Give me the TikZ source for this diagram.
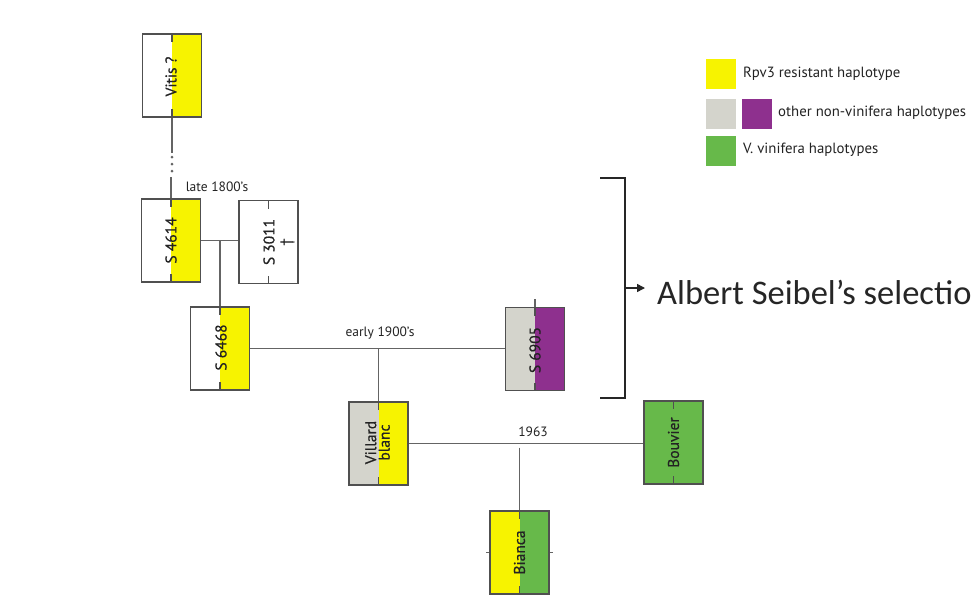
\documentclass[tikz,border=0pt]{standalone}
\usepackage{fontspec}
\setmainfont{PT Sans}
\newfontfamily\labfont[FakeBold=0.6]{PT Sans}
\newfontfamily\calib{Carlito}
\usetikzlibrary{arrows.meta,calc}
\definecolor{ryel}{RGB}{247,243,0}
\definecolor{rgray}{RGB}{212,212,204}
\definecolor{rpurp}{RGB}{142,48,142}
\definecolor{rgreen}{RGB}{103,185,74}
\definecolor{linec}{RGB}{100,100,100}
\definecolor{boxc}{RGB}{80,80,80}
\definecolor{txtc}{RGB}{35,35,35}
\begin{document}
\begin{tikzpicture}[x=1pt,y=-1pt,
  lc/.style={draw=linec, line width=1.2pt},
  gbox/.style 2 args={draw=boxc, line width=1.2pt, minimum width=59pt, minimum height=83pt, inner sep=0pt,
    path picture={
      \fill[#1] (path picture bounding box.south west) rectangle (path picture bounding box.north);
      \fill[#2] (path picture bounding box.south) rectangle (path picture bounding box.north east);
      \draw[boxc, line width=1.2pt] (path picture bounding box.north) -- ++(0,-8pt);
      \draw[boxc, line width=1.2pt] (path picture bounding box.south) -- ++(0,8pt);
    }},
  lab/.style={rotate=90, font=\labfont\fontsize{15.5}{13.5}\selectfont, text=txtc, align=center, inner sep=0pt},
  yearlab/.style={font=\fontsize{13.5}{15}\selectfont, text=txtc, inner sep=0pt},
  legsq/.style={minimum width=30pt, minimum height=30pt, inner sep=0pt},
  legtxt/.style={font=\fontsize{14.8}{16}\selectfont, text=txtc, anchor=west, inner sep=0pt},
]
\useasboundingbox (0,0) rectangle (974,595);
\fill[white] (0,0) rectangle (974,595);

% boxes
\node[gbox={white}{ryel}] (vitis) at (172,75.5) {};
\node[gbox={white}{ryel}] (s4614) at (171,240.5) {};
\node[gbox={white}{white}] (s3011) at (268.5,242) {};
\node[gbox={white}{ryel}] (s6468) at (220,348.5) {};
\node[gbox={rgray}{rpurp}] (s6905) at (535,349) {};
\node[gbox={rgray}{ryel}] (villard) at (378.5,443.5) {};
\node[gbox={rgreen}{rgreen}] (bouvier) at (673.5,442.5) {};
\node[gbox={ryel}{rgreen}] (bianca) at (519.5,552.5) {};

% box labels
\node[lab] (tvitis) at ($(vitis)+(-1,1)$) {Vitis ?};
\node[lab] (ts4614) at (s4614) {S 4614};
\node[lab] (ts3011) at ($(s3011)+(0.5,0)$) {S 3011};
\node[lab] (tdag) at ($(s3011)+(19,0)$) {†};
\node[lab] (ts6468) at ($(s6468)+(1,-1)$) {S 6468};
\node[lab] (ts6905) at ($(s6905)+(0,1)$) {S 6905};
\node[lab] (tvillard) at ($(villard)+(-1,-1)$) {Villard\\blanc};
\node[lab] (tbouvier) at (bouvier) {Bouvier};
\node[lab] (tbianca) at (bianca) {Bianca};

% connectors
\draw[lc] (vitis.south) -- ++(0,35);
\fill[linec] (172,157) circle (1.5) (172,164) circle (1.5) (172,171) circle (1.5);
\draw[lc] (s4614.north) -- ++(0,-21);
\draw[lc] (s4614.east) -- (s4614.east -| s3011.west);
\coordinate (m1) at (s6468.north |- s4614.east);
\draw[lc] (m1) -- (s6468.north);
\draw[lc] (s6468.east) -- (s6468.east -| s6905.west);
\draw[lc] (s6905.north) -- ++(0,-8);
\coordinate (m2) at (villard.north |- s6468.east);
\draw[lc] (m2) -- (villard.north);
\draw[lc] (villard.east) -- (villard.east -| bouvier.west);
\coordinate (m3) at (bianca.north |- villard.east);
\draw[lc] ($(m3)+(0,4)$) -- (bianca.north);
\draw[lc] (bianca.west) -- ++(-3,0);
\draw[lc] (bianca.east) -- ++(3,0);

% year labels
\node[yearlab] (late) at (217,187) {late 1800’s};
\node[yearlab] (early) at (380,333) {early 1900’s};
\node[yearlab] (y1963) at (533,432) {1963};

% legend
\node[legsq, fill=ryel] (ly) at (721,74) {};
\node[legtxt] (lyt) at (743,74) {Rpv3 resistant haplotype};
\node[legsq, fill=rgray] (lg) at (721,114) {};
\node[legsq, fill=rpurp] (lp) at (756.5,114) {};
\node[legtxt] (lpt) at (778,113) {other non-vinifera haplotypes};
\node[legsq, fill=rgreen] (lgr) at (721,150.5) {};
\node[legtxt] (lgrt) at (743,150) {V. vinifera haplotypes};

% bracket and title
\coordinate (bt) at (600,178);
\coordinate (bb) at (600,398);
\draw[draw=black!85, line width=1.5pt] (bt) -- (625,178) -- (625,398) -- (bb);
\coordinate (bm) at (625,288);
\node[font=\calib\fontsize{34.5}{40}\selectfont, text=black!85, anchor=west, inner sep=0pt] (sel) at (657,292) {Albert Seibel’s selectio};
\draw[draw=black!85, line width=1.5pt, -{Triangle[length=8pt,width=8pt]}] (bm) -- (645,288);
\end{tikzpicture}
\end{document}
